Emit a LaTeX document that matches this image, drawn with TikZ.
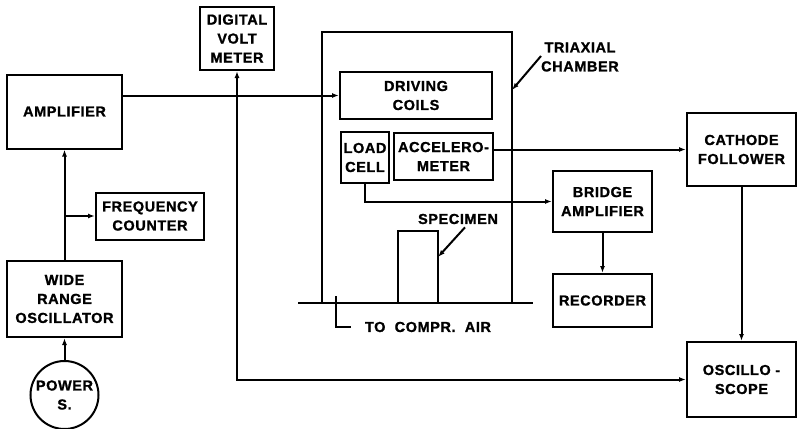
\documentclass[tikz,border=0pt]{standalone}
\usepackage{fontspec}
\setmainfont{Liberation Sans}[LetterSpace=4, BoldFeatures={FakeBold=1.2}]
\usepackage{tikz}
\usetikzlibrary{arrows.meta}

\tikzset{
  blk/.style={draw, line width=2pt, inner sep=0pt, align=center,
    font=\fontsize{14.5}{19}\selectfont\bfseries},
  lbl/.style={inner sep=0pt, align=center, font=\fontsize{14.5}{19}\selectfont\bfseries},
  wire/.style={line width=2pt, -{Latex[length=7pt,width=5pt]}},
}

\begin{document}
\begin{tikzpicture}[x=1pt, y=-1pt]
\useasboundingbox (0,0) rectangle (797,428);
% left column
\node[blk, minimum width=115pt, minimum height=74pt] (amp) at (64.5,111.5) {AMPLIFIER};
\node[blk, minimum width=108pt, minimum height=47pt] (freq) at (150,216) {FREQUENCY\\COUNTER};
\node[blk, minimum width=115pt, minimum height=76pt] (osc) at (64.5,299) {WIDE\\RANGE\\OSCILLATOR};
\node[blk, circle, minimum size=68pt] (power) at (64.5,395) {POWER\\S.};
\node[blk, minimum width=74pt, minimum height=63pt] (dvm) at (237,38.5) {DIGITAL\\VOLT\\METER};
% triaxial chamber
\node[blk, minimum width=190pt, minimum height=271pt] (chamber) at (417,167.5) {};
\node[blk, minimum width=152pt, minimum height=47pt] (coils) at (416,95.5) {DRIVING\\COILS};
\node[blk, minimum width=48pt, minimum height=51pt] (load) at (365,157.5) {LOAD\\CELL};
\node[blk, minimum width=99pt, minimum height=47pt] (accel) at (443.5,156.5) {ACCELERO-\\METER};
\node[blk, minimum width=40pt, minimum height=72pt] (spec) at (418,267) {};
\draw[line width=2pt] (298,303) coordinate (base1) -- (533,303) coordinate (base2);
\node[lbl] (tri) at (580,57) {TRIAXIAL\\CHAMBER};
\node[lbl] (speclbl) at (458,219) {SPECIMEN};
\node[lbl] (air) at (428,327) {TO\ \ COMPR.\ \ AIR};
\coordinate (trihit) at (512,90);
\coordinate (spechit) at (438,257);
\coordinate (airtop) at (336,296);
% right side
\node[blk, minimum width=99pt, minimum height=61pt] (bridge) at (602.5,201.5) {BRIDGE\\AMPLIFIER};
\node[blk, minimum width=99pt, minimum height=53pt] (rec) at (602.5,300.5) {RECORDER};
\node[blk, minimum width=109pt, minimum height=73pt] (cath) at (741.5,149.5) {CATHODE\\FOLLOWER};
\node[blk, minimum width=109pt, minimum height=75pt] (scope) at (741.5,379.5) {OSCILLO -\\SCOPE};

% connections
\draw[wire] (power) -- (osc);
\draw[wire] (osc) -- (amp);
\draw[wire] (osc.north |- freq.west) -- (freq.west);
\draw[wire] (amp.east |- coils.west) -- (coils.west);
\draw[wire, {Latex[length=7pt,width=5pt]}-{Latex[length=7pt,width=5pt]}] (dvm.south) |- (scope.west);
\draw[wire] (accel.east |- cath.west) -- (cath.west);
\draw[wire] (load.south) |- (bridge.west);
\draw[wire] (bridge) -- (rec);
\draw[wire] (cath) -- (scope);
\draw[wire] ([yshift=1pt]tri.west) -- (trihit);
\draw[wire] ([xshift=7pt]speclbl.south) ++(0,3) -- (spechit);
\draw[line width=2pt] (airtop) |- ([xshift=-14pt]air.west);
\end{tikzpicture}
\end{document}
